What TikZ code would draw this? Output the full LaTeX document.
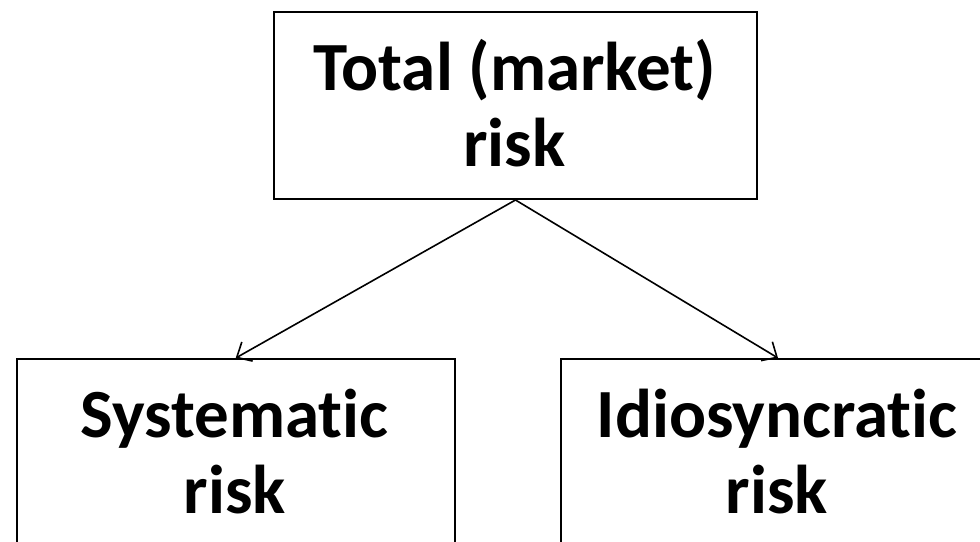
\documentclass[tikz,border=0pt]{standalone}
\usepackage{fontspec}
\setmainfont[RawFeature=-liga]{Carlito}
\usetikzlibrary{arrows.meta}
\begin{document}
\begin{tikzpicture}[x=1pt,y=-1pt,
  box/.style={draw=black,line width=2pt,inner sep=0pt,anchor=north west},
  lbl/.style={font=\fontsize{69}{76}\selectfont\bfseries,align=center,inner sep=0pt},
  conn/.style={line width=1.6pt,-{Straight Barb[length=12pt,width=22pt,line width=1.6pt]}}]
\useasboundingbox (0,0) rectangle (980,541);
\clip (0,0) rectangle (980,541);
\fill[white] (0,0) rectangle (980,541);
\node[box,minimum width=483pt,minimum height=187.5pt] (top) at (273,10.5) {};
\node[box,minimum width=438.5pt,minimum height=220pt] (left) at (15.5,358) {};
\node[box,minimum width=434pt,minimum height=220pt] (right) at (560,358) {};
\node[lbl] (toptext) at (514.5,103) {Total (market)\\risk};
\node[lbl] (lefttext) at (234.75,452) {Systematic\\risk};
\node[lbl] (righttext) at (777,452) {Idiosyncratic\\risk};
\draw[conn] (top.south) -- (left.north);
\draw[conn] (top.south) -- (right.north);
\end{tikzpicture}
\end{document}
